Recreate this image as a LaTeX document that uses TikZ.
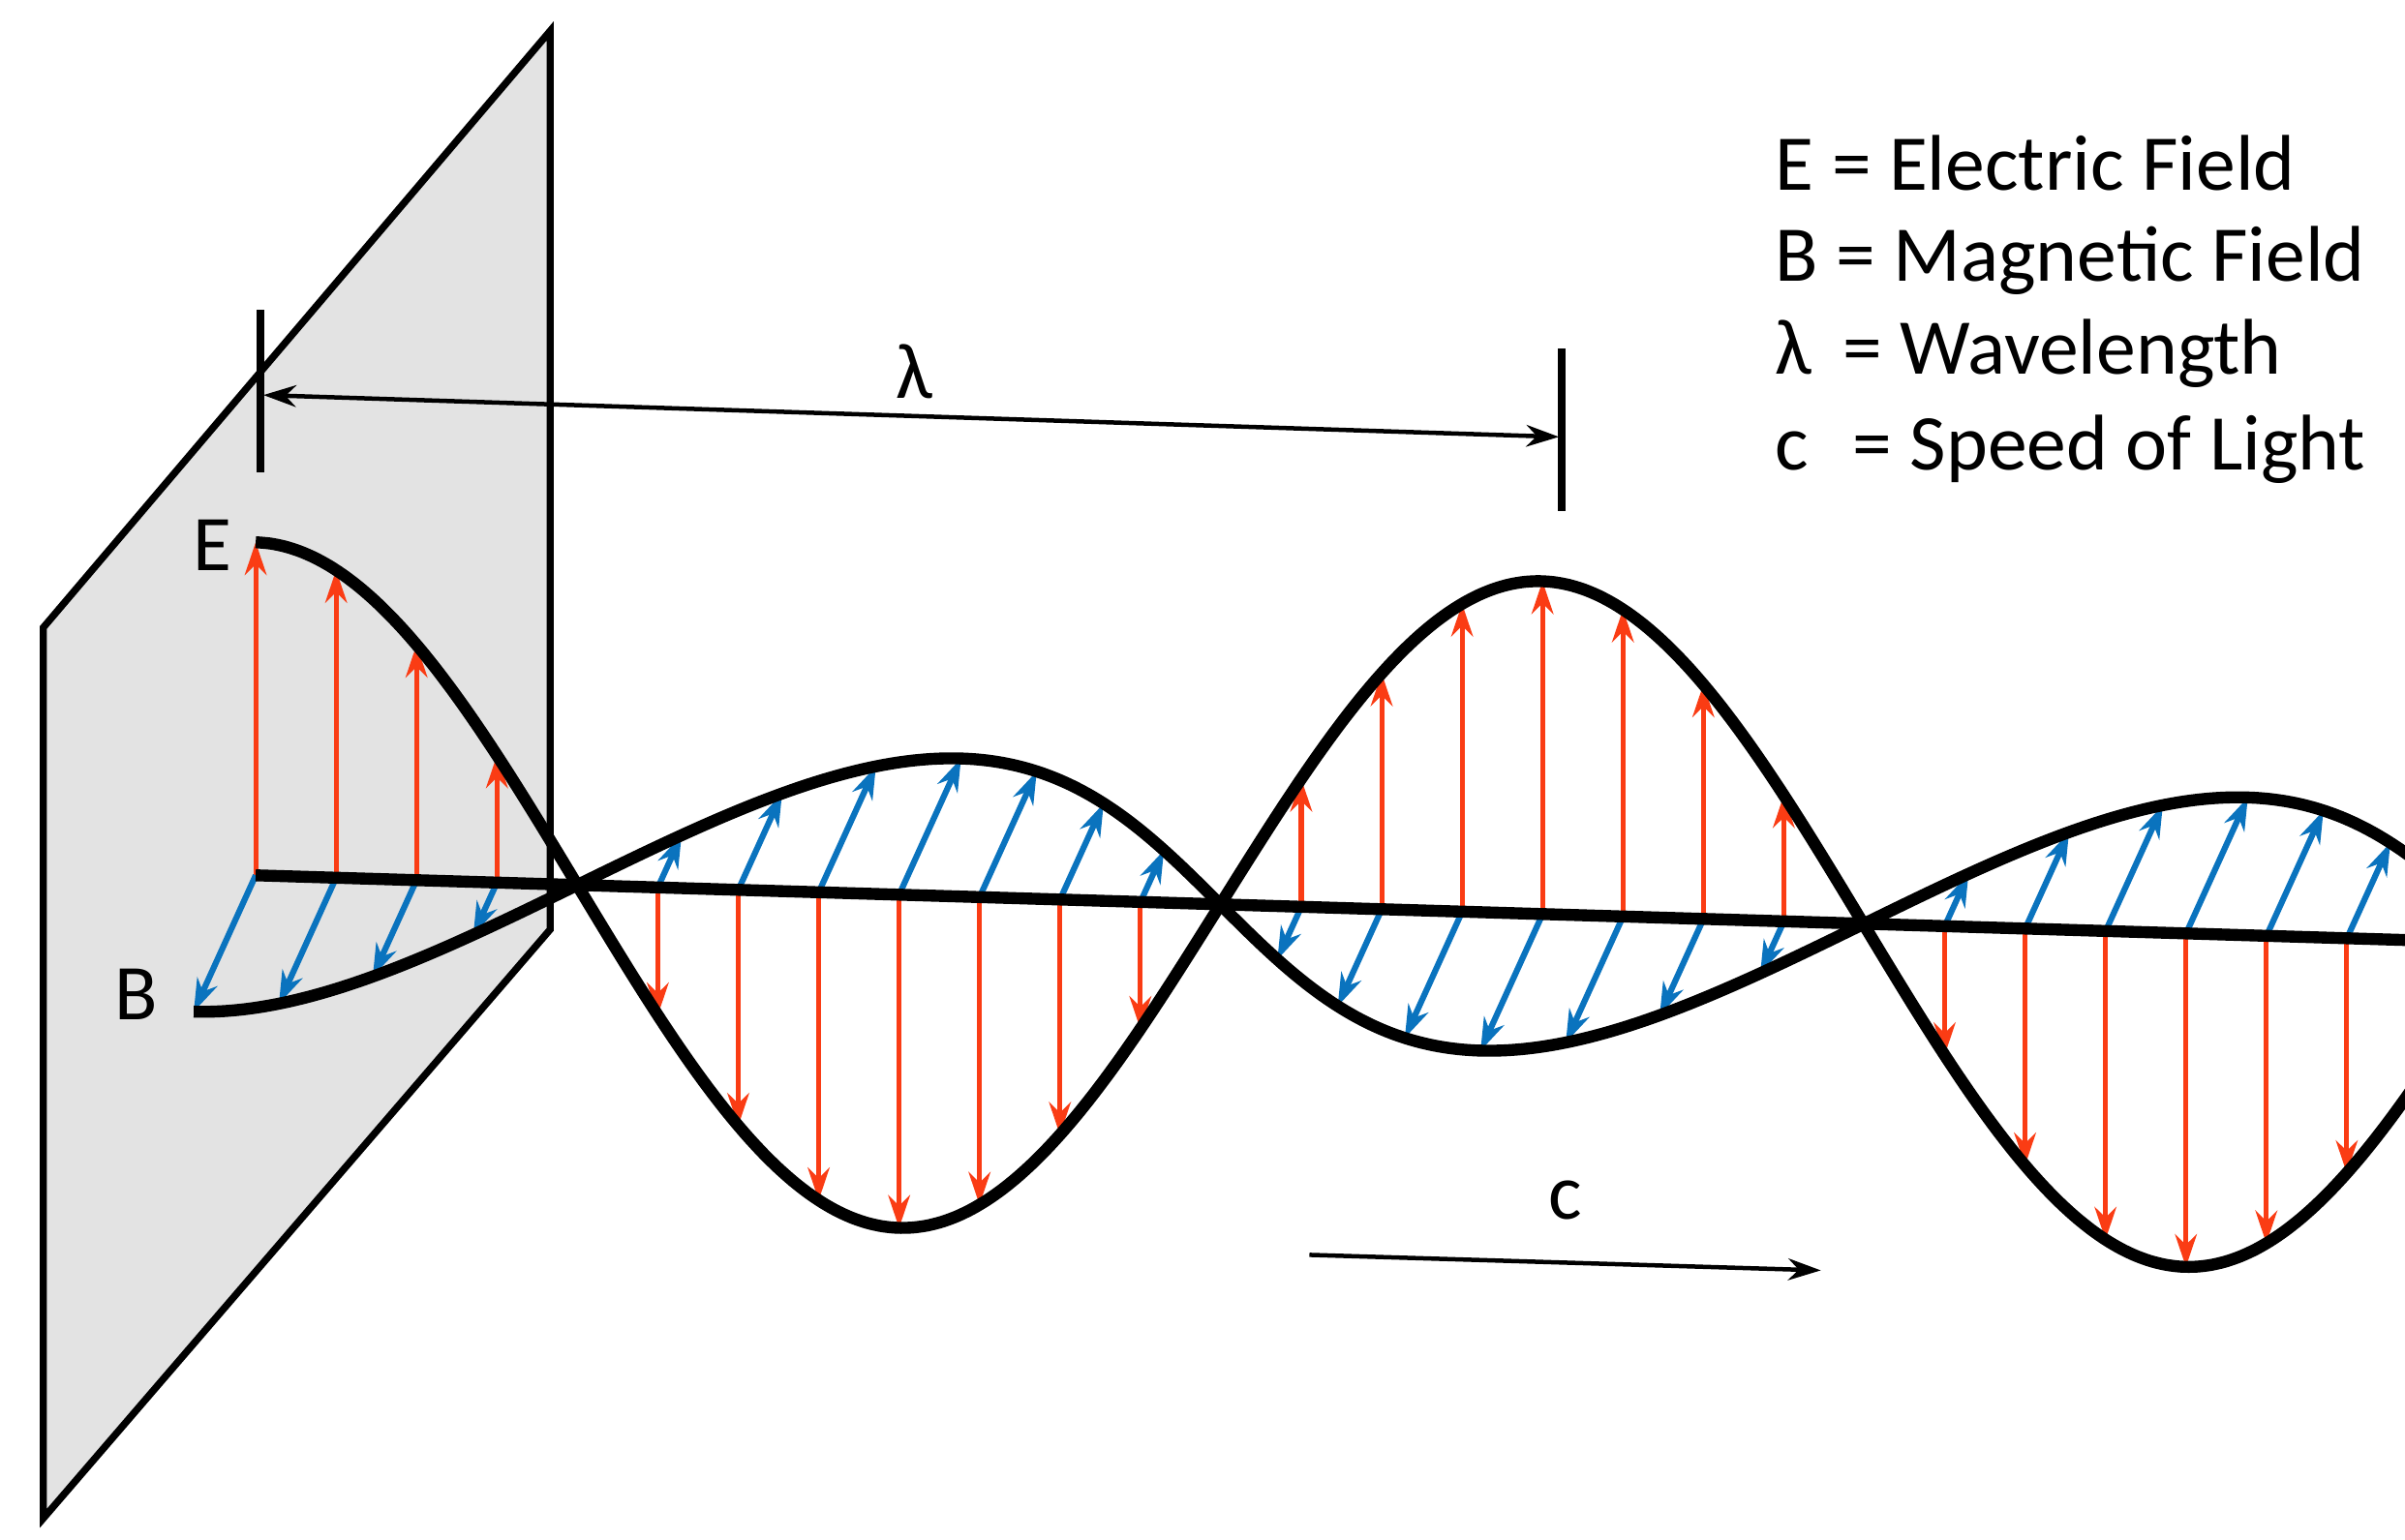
\documentclass[tikz,border=0pt]{standalone}
\usepackage{fontspec}
\setmainfont{Carlito}
\usetikzlibrary{arrows.meta, positioning}

\definecolor{efield}{RGB}{250,60,20}
\definecolor{bfield}{RGB}{10,115,190}

\begin{document}
\begin{tikzpicture}[x=0.01cm, y=-0.01cm,
    declare function={ay(\u)=565+0.0303*(\u-165); cs(\u)=cos(0.43373*(\u-165));},
    font=\fontsize{14.5}{17}\selectfont]
    \tikzstyle{wave} = [line width=2.2pt, black]
    \tikzstyle{evec} = [efield, line width=0.9pt, -{Stealth[length=6pt,width=4pt]}]
    \tikzstyle{bvec} = [bfield, line width=1.1pt, -{Stealth[length=6pt,width=4pt]}]
    \tikzstyle{dim} = [black, line width=0.8pt]

    \useasboundingbox (0,0) rectangle (1552,994);

    % the plane
    \draw [fill=gray!22, line width=1.3pt] (28,405) -- (355,20) -- (355,600) -- (28,980) -- cycle;

    \begin{scope}
    \clip (0,0) rectangle (1552,994);
    % field vectors
    \foreach \k in {0,...,26} {
        \pgfmathsetmacro{\xx}{165+51.9*\k}
        \pgfmathsetmacro{\cc}{cs(\xx)}
        \pgfmathsetmacro{\yy}{ay(\xx)}
        \pgfmathtruncatemacro{\show}{abs(\cc)>0.2}
        \ifnum\show=1
            \draw [evec] (\xx,\yy) -- (\xx,\yy-215*\cc);
            \draw [bvec] (\xx,\yy) -- (\xx-40*\cc,\yy+88*\cc);
        \fi
    }
    % axis and waves
    \coordinate (start) at (165,565);
    \coordinate (stop) at (1560,607);
    \draw [wave] (start) -- (stop);
    \draw [wave] plot [domain=165:1600, samples=150, smooth] (\x, {ay(\x)-215*cs(\x)});
    \draw [wave] plot [domain=165:1600, samples=150, smooth] ({\x-40*cs(\x)}, {ay(\x)+88*cs(\x)});
    \end{scope}

    \node (E) at (137,352) {E};
    \node (B) at (88,642) {B};

    % wavelength
    \coordinate (t1a) at (168,200);
    \coordinate (t1b) at (168,305);
    \coordinate (t2a) at (1008,225);
    \coordinate (t2b) at (1008,330);
    \draw [line width=1.4pt] (t1a) -- (t1b);
    \draw [line width=1.4pt] (t2a) -- (t2b);
    \coordinate (l1) at (170,255);
    \coordinate (l2) at (1006,282);
    \draw [dim, {Stealth[length=6pt,width=4pt]}-{Stealth[length=6pt,width=4pt]}] (l1) -- (l2);
    \node (lam) at (590,240) {λ};

    % speed
    \coordinate (c1) at (845,810);
    \coordinate (c2) at (1175,820);
    \draw [dim, -{Stealth[length=6pt,width=4pt]}] (c1) -- (c2);
    \node (c) at (1010,775) {c};

    % legend
    \node (leg1) [anchor=west, inner sep=0pt] at (1145,105) {E = Electric Field};
    \node (leg2) [anchor=west, inner sep=0pt] at (1145,168) {B = Magnetic Field};
    \node (leg3) [anchor=west, inner sep=0pt] at (1145,228) {λ\, = Wavelength};
    \node (leg4) [anchor=west, inner sep=0pt] at (1145,290) {c\,\, = Speed of Light};
\end{tikzpicture}
\end{document}
